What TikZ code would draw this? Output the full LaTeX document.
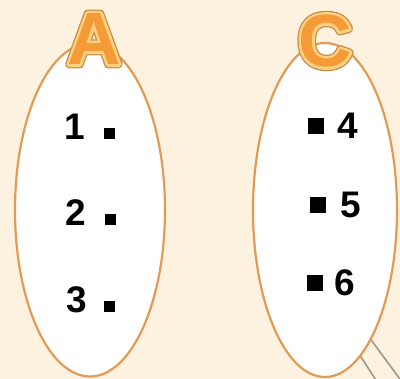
\documentclass[tikz,border=0pt]{standalone}
\usepackage{fontspec}
\setmainfont{Liberation Sans}
\usetikzlibrary{shapes.geometric}
\definecolor{bg}{HTML}{FCF2DF}
\definecolor{edge}{HTML}{E39A55}
\definecolor{letfill}{HTML}{F49B38}
\definecolor{handle}{HTML}{9C9A84}
\newcommand{\darkrim}[1]{\special{pdf:literal direct 2 Tr 8 w 1 j 0.80 0.55 0.30 RG}#1\special{pdf:literal direct 0 Tr}}
\newcommand{\lightrim}[1]{\special{pdf:literal direct 2 Tr 5.4 w 1 j 0.98 0.82 0.50 RG}#1\special{pdf:literal direct 0 Tr}}
\begin{document}
\begin{tikzpicture}[x=1pt,y=-1pt,
  oval/.style={ellipse, draw=edge, line width=2.2pt, fill=white, inner sep=0pt},
  num/.style={font=\fontsize{37}{37}\selectfont\bfseries, inner sep=0pt},
  sqs/.style={fill=black, inner sep=0pt, minimum size=11pt},
  sqb/.style={fill=black, inner sep=0pt, minimum size=16pt},
  big/.style={font=\fontsize{74}{74}\selectfont\bfseries, inner sep=0pt, text=letfill}]
\fill[bg] (0,0) rectangle (400,379);
\useasboundingbox (0,0) rectangle (400,379);
% handle lines behind the right oval
\coordinate (h1a) at (345,332); \coordinate (h1b) at (381,388);
\coordinate (h2a) at (355,318); \coordinate (h2b) at (405,386);
\draw[handle, line width=1.6pt] (h1a) -- (h1b);
\draw[handle, line width=1.6pt] (h2a) -- (h2b);
% ovals
\node[oval, minimum width=150pt, minimum height=333pt] (ovA) at (90,210) {};
\node[oval, minimum width=144pt, minimum height=334pt] (ovC) at (325,210) {};
% letters
\node[big] (LAd) at (94,39) {\darkrim{A}};
\node[big] (LAl) at (94,39) {\lightrim{A}};
\node[big] (LA) at (94,39) {A};
\node[big] (LCd) at (325,41) {\darkrim{C}};
\node[big] (LCl) at (325,41) {\lightrim{C}};
\node[big] (LC) at (325,41) {C};
% left items
\node[num] (n1) at (75,127) {1};
\node[sqs] (s1) at (109,134) {};
\node[num] (n2) at (76,213) {2};
\node[sqs] (s2) at (110,220) {};
\node[num] (n3) at (77,300) {3};
\node[sqs] (s3) at (109,307) {};
% right items
\node[sqb] (s4) at (316,126) {};
\node[num] (n4) at (348,126) {4};
\node[sqb] (s5) at (318,205) {};
\node[num] (n5) at (351,205) {5};
\node[sqb] (s6) at (315,283) {};
\node[num] (n6) at (345,283) {6};
\end{tikzpicture}
\end{document}
